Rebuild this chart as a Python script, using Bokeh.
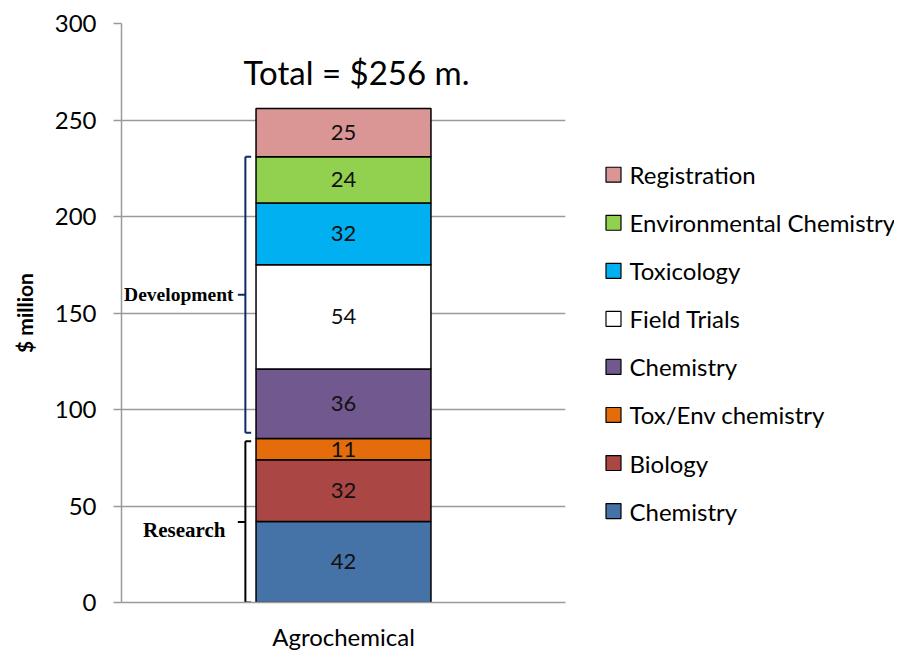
import numpy as np
from bokeh.plotting import figure
from bokeh.layouts import row
from bokeh.models import (Range1d, FactorRange, ColumnDataSource, SingleIntervalTicker, Label)
from bokeh.core.properties import value
from bokeh.embed import file_html
from bokeh.resources import INLINE

# ---------------- data ----------------
category = ["Agrochemical"]
components = ["Chemistry", "Biology", "Tox/Env chemistry", "Chemistry",
              "Field Trials", "Toxicology", "Environmental Chemistry", "Registration"]
keys = ["res_chem", "biology", "tox_env", "dev_chem",
        "field", "tox", "env_chem", "registration"]
values = [42, 32, 11, 36, 54, 32, 24, 25]
colors = ["#4572A7", "#AA4643", "#E46C0A", "#71588F",
          "#FFFFFF", "#00B0F0", "#92D050", "#D99694"]
research_n = 3          # first three components belong to Research
y_ticks_interval = 50

FONT = "Lato"
cat = category[0]

total = int(sum(values))
cum = np.cumsum(values)
starts = cum - np.array(values)
mids = starts + np.array(values) / 2.0

data = {"x": category}
for k, v in zip(keys, values):
    data[k] = [v]
source = ColumnDataSource(data)

H = 653
TOP, BOTTOM = 23, 48
p = figure(x_range=FactorRange(*category, range_padding=0), y_range=Range1d(0, 300),
           width=575, height=H, output_backend="svg", toolbar_location=None,
           min_border_left=121, min_border_top=TOP, min_border_right=10, min_border_bottom=BOTTOM)
p.outline_line_color = None
p.background_fill_color = "white"

renderers = p.vbar_stack(keys, x="x", width=0.394, color=colors, line_color="black",
                         line_width=1.5, source=source)

# segment values
p.text(x=category * len(values), y=list(mids), text=[str(v) for v in values],
       text_align="center", text_baseline="middle", text_font=value(FONT),
       text_font_size="22px", text_color="#111111")

# total
p.text(x=category, y=[total + 19], text=[f"Total = ${total} m."], x_offset=13,
       text_align="center", text_baseline="middle", text_font=value(FONT),
       text_font_size="33px", text_color="black")

# brackets (categorical offsets from the bar centre)
res_top = cum[research_n - 1]
res_lo, res_hi = 0, res_top - 1.5
dev_lo, dev_hi = res_top + 3, cum[-2]
bx, bend, btick = -0.221, -0.208, -0.238
seg_x0, seg_y0, seg_x1, seg_y1, seg_c = [], [], [], [], []
for lo, hi, col in [(dev_lo, dev_hi, "#0B2A6B"), (res_lo, res_hi, "black")]:
    mid = (lo + hi) / 2
    for (xa, ya, xb, yb) in [(bx, lo, bx, hi), (bx, hi, bend, hi), (bx, lo, bend, lo),
                             (bx, mid, btick, mid)]:
        seg_x0.append([cat, xa]); seg_y0.append(ya)
        seg_x1.append([cat, xb]); seg_y1.append(yb)
        seg_c.append(col)
seg_src = ColumnDataSource(dict(x0=seg_x0, y0=seg_y0, x1=seg_x1, y1=seg_y1, c=seg_c))
p.segment(x0="x0", y0="y0", x1="x1", y1="y1", line_color="c", line_width=2, source=seg_src)

# group labels (x = synthetic centre of the single category)
p.add_layout(Label(x=0.5, y=(dev_lo + dev_hi) / 2, x_offset=-110, text="Development",
                   text_align="right", text_baseline="middle", text_font="Liberation Serif",
                   text_font_style="bold", text_font_size="19.5px", text_color="black"))
p.add_layout(Label(x=0.5, y=(res_lo + res_hi) / 2 - 4, x_offset=-118, text="Research",
                   text_align="right", text_baseline="middle", text_font="Liberation Serif",
                   text_font_style="bold", text_font_size="21px", text_color="black"))

# axes / grid
p.ygrid.grid_line_color = "#9a9a9a"
p.ygrid.grid_line_width = 1.5
p.xgrid.grid_line_color = None

p.yaxis.ticker = SingleIntervalTicker(interval=y_ticks_interval)
p.yaxis.axis_line_color = "#9a9a9a"
p.yaxis.axis_line_width = 1.5
p.yaxis.major_tick_line_color = "#9a9a9a"
p.yaxis.major_tick_line_width = 1.5
p.yaxis.major_tick_out = 8
p.yaxis.major_tick_in = 0
p.yaxis.minor_tick_line_color = None
p.yaxis.major_label_standoff = 17
p.yaxis.major_label_text_font = FONT
p.yaxis.major_label_text_font_size = "24px"
p.yaxis.major_label_text_color = "black"
p.yaxis.axis_label = "$ million"
p.yaxis.axis_label_text_font = FONT
p.yaxis.axis_label_text_font_style = "bold"
p.yaxis.axis_label_text_font_size = "21px"
p.yaxis.axis_label_text_color = "black"
p.yaxis.axis_label_standoff = 15

p.xaxis.axis_line_color = "#9a9a9a"
p.xaxis.axis_line_width = 1.5
p.xaxis.major_tick_line_color = None
p.xaxis.major_tick_out = 0
p.xaxis.major_tick_in = 0
p.xaxis.minor_tick_line_color = None
p.xaxis.major_label_standoff = 19
p.xaxis.major_label_text_font = FONT
p.xaxis.major_label_text_font_size = "24px"
p.xaxis.major_label_text_color = "black"

# ---------------- legend panel (page-pixel coordinates, y downwards) ----------------
# the row aligns this panel's frame with the chart frame (page y 23 .. 605)
LW = 319
lg = figure(width=LW, height=H, x_range=Range1d(0, LW), y_range=Range1d(H - BOTTOM, TOP),
            output_backend="svg", toolbar_location=None,
            min_border_left=0, min_border_right=0, min_border_top=TOP, min_border_bottom=BOTTOM)
lg.axis.visible = False
lg.grid.visible = False
lg.outline_line_color = None
order = list(range(len(components)))[::-1]
row_y = [175 + i * 48.3 for i in range(len(order))]
leg_src = ColumnDataSource(dict(y=row_y,
                                label=[components[j] for j in order],
                                color=[colors[j] for j in order]))
lg.rect(x=38, y="y", width=15, height=15, fill_color="color", line_color="black",
        line_width=1.2, source=leg_src)
lg.text(x=54, y="y", text="label", text_baseline="middle", text_align="left",
        text_font=value(FONT), text_font_size="24px", text_color="black", source=leg_src)

layout = row(p, lg, spacing=0)
open("out.html", "w").write(file_html(layout, INLINE))
